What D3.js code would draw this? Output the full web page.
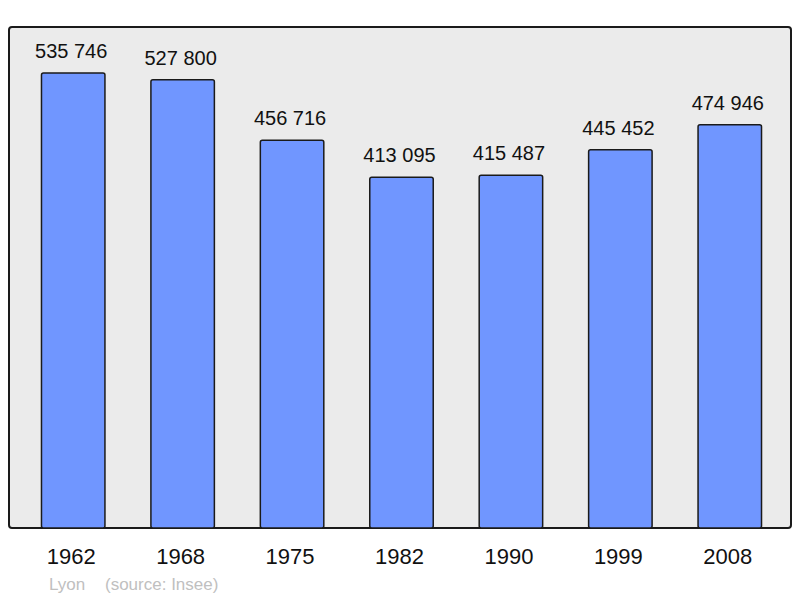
<!DOCTYPE html>
<html><head><meta charset="utf-8">
<script src="https://cdn.jsdelivr.net/npm/d3@7"></script>
<style>body{margin:0;background:#fff}svg{display:block}text{font-family:"Liberation Sans",Arial,sans-serif}</style>
</head><body>
<svg id="c" width="800" height="598"></svg>
<script>
const years = ["1962","1968","1975","1982","1990","1999","2008"];
const population = [535746, 527800, 456716, 413095, 415487, 445452, 474946];
const town = "Lyon";
const source = "(source: Insee)";

const svg = d3.select("#c");
const frame = {x0: 9, x1: 791, y0: 27, y1: 528};
const y = d3.scaleLinear().domain([0, 590000]).range([frame.y1, frame.y0]);
const x = d3.scaleBand().domain(years).range([18.5, 784.5]).paddingInner(0.42).paddingOuter(0.21);

svg.append("rect").attr("x", frame.x0).attr("y", frame.y0)
  .attr("width", frame.x1 - frame.x0).attr("height", frame.y1 - frame.y0)
  .attr("rx", 3).attr("fill", "#ebebeb").attr("stroke", "#1a1a1a").attr("stroke-width", 2);

const fmt = v => d3.format(",")(v).replace(/,/g, " ");

const g = svg.append("g");
g.selectAll("rect.bar").data(population).join("rect").attr("class","bar")
  .attr("x", (d,i) => x(years[i]))
  .attr("y", d => y(d))
  .attr("width", x.bandwidth())
  .attr("height", d => frame.y1 - y(d))
  .attr("rx", 2)
  .attr("fill", "#7096ff").attr("stroke", "#1a1a1a").attr("stroke-width", 1.5);

g.selectAll("text.val").data(population).join("text").attr("class","val")
  .attr("x", (d,i) => x(years[i]) + x.bandwidth()/2 - 2)
  .attr("y", d => y(d) - 15)
  .attr("text-anchor", "middle").attr("font-size", 20).attr("fill", "#111")
  .text(fmt);

g.selectAll("text.yr").data(years).join("text").attr("class","yr")
  .attr("x", d => x(d) + x.bandwidth()/2 - 2)
  .attr("y", 564)
  .attr("text-anchor", "middle").attr("font-size", 22).attr("fill", "#111")
  .text(d => d);

svg.append("text").attr("x", 49).attr("y", 590).attr("font-size", 17).attr("fill", "#c0c0c0").text(town);
svg.append("text").attr("x", 105).attr("y", 590).attr("font-size", 17).attr("fill", "#c0c0c0").text(source);
</script>
</body></html>
